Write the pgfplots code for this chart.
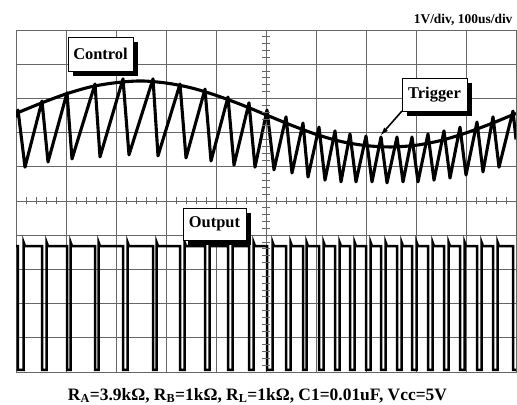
\documentclass[border=0pt]{standalone}
\usepackage{pgfplots}
\pgfplotsset{compat=1.18}
\usepackage{fontspec}
\setmainfont{Liberation Serif}
\usetikzlibrary{shadows,arrows.meta}

\tikzset{
  lbl/.style={draw=black, line width=0.8bp, fill=white, inner sep=0pt,
    minimum width=65bp, minimum height=34bp,
    font=\bfseries\fontsize{16.5}{18}\selectfont,
    drop shadow={shadow xshift=5bp, shadow yshift=-5bp, fill=black, opacity=1}},
  trace/.style={black, line width=3.1bp, line join=round}
}

\begin{document}
\begin{tikzpicture}
\useasboundingbox (0,0) rectangle (517bp,405bp);
\begin{axis}[
    at={(16bp,33bp)}, anchor=south west,
    width=500bp, height=342bp, scale only axis,
    xmin=0, xmax=10, ymin=0, ymax=10,
    xtick={0,...,10}, ytick={0,...,10},
    xticklabels={}, yticklabels={},
    major tick length=0pt,
    grid=major,
    major grid style={black!60, line width=0.8bp},
    axis line style={black!60, line width=0.8bp},
]
% control voltage (sine, 1 period across the screen)
\addplot[trace, smooth] coordinates {
(0,7.56) (0.5,7.86) (1,8.13) (1.5,8.34) (2,8.46) (2.5,8.51) (3,8.45)
(3.5,8.31) (4,8.09) (4.5,7.82) (5,7.52) (5.5,7.22) (6,6.95) (6.5,6.74)
(7,6.62) (7.5,6.58) (8,6.63) (8.5,6.77) (9,6.99) (9.5,7.26) (10,7.56)
};
% trigger / threshold (capacitor voltage)
\addplot[trace] coordinates {
(0,7.45) (0.04,7.66) (0.18,5.99) (0.52,7.92) (0.64,6.14) (1.02,8.16)
(1.12,6.23) (1.58,8.42) (1.68,6.29) (2.14,8.57) (2.26,6.35) (2.74,8.57)
(2.84,6.32) (3.28,8.42) (3.40,6.26) (3.78,8.27) (3.90,6.17) (4.24,8.04)
(4.36,6.05) (4.66,7.87) (4.78,5.99) (5.02,7.66) (5.16,5.91) (5.40,7.46)
(5.52,5.82) (5.74,7.28) (5.84,5.70) (6.06,7.16) (6.18,5.61) (6.38,7.05)
(6.50,5.56) (6.68,6.96) (6.80,5.56) (7.00,6.90) (7.12,5.56) (7.30,6.87)
(7.42,5.53) (7.62,6.87) (7.74,5.56) (7.92,6.87) (8.04,5.56) (8.24,6.96)
(8.36,5.61) (8.56,7.05) (8.68,5.67) (8.88,7.16) (9.00,5.76) (9.22,7.31)
(9.34,5.85) (9.54,7.46) (9.66,5.99) (9.94,7.63) (10.0,6.8)
};
% output
\addplot[trace, line width=2.5bp, line join=miter] coordinates {
(0,3.68) (0.04,3.68) (0.04,0.06) (0.15,0.06) (0.15,3.80) (0.18,3.68)
(0.52,3.68) (0.52,0.06) (0.61,0.06) (0.61,3.80) (0.64,3.68)
(1.02,3.68) (1.02,0.06) (1.09,0.06) (1.09,3.80) (1.12,3.68)
(1.58,3.68) (1.58,0.06) (1.65,0.06) (1.65,3.80) (1.68,3.68)
(2.14,3.68) (2.14,0.06) (2.23,0.06) (2.23,3.80) (2.26,3.68)
(2.74,3.68) (2.74,0.06) (2.81,0.06) (2.81,3.80) (2.84,3.68)
(3.28,3.68) (3.28,0.06) (3.37,0.06) (3.37,3.80) (3.40,3.68)
(3.78,3.68) (3.78,0.06) (3.87,0.06) (3.87,3.80) (3.90,3.68)
(4.24,3.68) (4.24,0.06) (4.33,0.06) (4.33,3.80) (4.36,3.68)
(4.66,3.68) (4.66,0.06) (4.75,0.06) (4.75,3.80) (4.78,3.68)
(5.02,3.68) (5.02,0.06) (5.13,0.06) (5.13,3.80) (5.16,3.68)
(5.40,3.68) (5.40,0.06) (5.49,0.06) (5.49,3.80) (5.52,3.68)
(5.74,3.68) (5.74,0.06) (5.81,0.06) (5.81,3.80) (5.84,3.68)
(6.06,3.68) (6.06,0.06) (6.15,0.06) (6.15,3.80) (6.18,3.68)
(6.38,3.68) (6.38,0.06) (6.47,0.06) (6.47,3.80) (6.50,3.68)
(6.68,3.68) (6.68,0.06) (6.77,0.06) (6.77,3.80) (6.80,3.68)
(7.00,3.68) (7.00,0.06) (7.09,0.06) (7.09,3.80) (7.12,3.68)
(7.30,3.68) (7.30,0.06) (7.39,0.06) (7.39,3.80) (7.42,3.68)
(7.62,3.68) (7.62,0.06) (7.71,0.06) (7.71,3.80) (7.74,3.68)
(7.92,3.68) (7.92,0.06) (8.01,0.06) (8.01,3.80) (8.04,3.68)
(8.24,3.68) (8.24,0.06) (8.33,0.06) (8.33,3.80) (8.36,3.68)
(8.56,3.68) (8.56,0.06) (8.65,0.06) (8.65,3.80) (8.68,3.68)
(8.88,3.68) (8.88,0.06) (8.97,0.06) (8.97,3.80) (9.00,3.68)
(9.22,3.68) (9.22,0.06) (9.31,0.06) (9.31,3.80) (9.34,3.68)
(9.54,3.68) (9.54,0.06) (9.63,0.06) (9.63,3.80) (9.66,3.68)
(9.94,3.68) (9.94,0.06) (10,0.06)
};
\end{axis}

% graticule minor ticks on the centre lines
\foreach \i in {1,...,49}
  \draw[black!60, line width=0.8bp] ({16bp+10bp*\i}, 200.5bp) -- ++(0,7bp);
\foreach \i in {1,...,49}
  \draw[black!60, line width=0.8bp] (262bp, {33bp+6.84bp*\i}) -- ++(8bp,0);

% labels
\node[lbl] at (100.5bp,351bp) {Control};
\node[lbl, minimum height=33bp] at (434.5bp,310.5bp) {Trigger};
\node[lbl, minimum width=63bp, minimum height=32bp] at (214.5bp,181bp) {Output};
\draw[black, line width=1.6bp, -{Latex[length=9bp,width=5bp]}]
  (402bp,294bp) -- (380bp,269bp);

\node[anchor=base east, font=\bfseries\fontsize{13.5}{15}\selectfont]
  at (516bp,381bp) {1V/div, 100us/div};
\node[anchor=base, font=\bfseries\fontsize{17.5}{19}\selectfont]
  at (257.5bp,5bp)
  {R\textsubscript{A}=3.9kΩ, R\textsubscript{B}=1kΩ, R\textsubscript{L}=1kΩ, C1=0.01uF, Vcc=5V};
\end{tikzpicture}
\end{document}
